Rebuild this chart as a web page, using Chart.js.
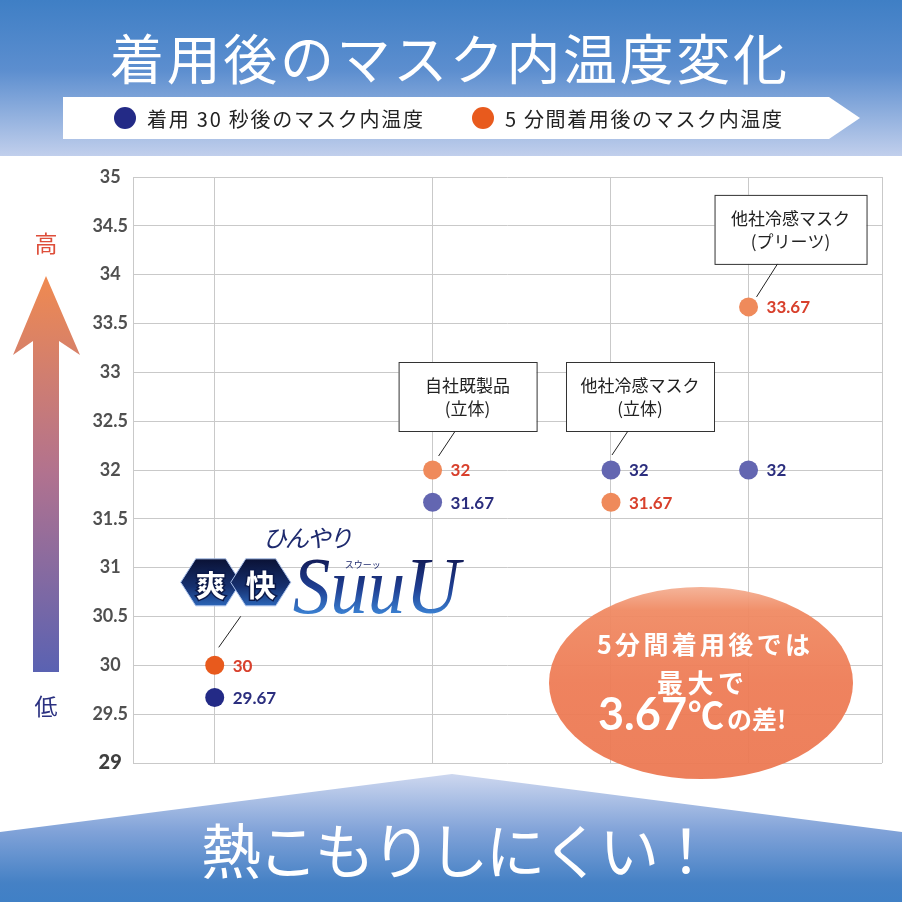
<!DOCTYPE html>
<html><head><meta charset="utf-8">
<script src="https://cdn.jsdelivr.net/npm/chart.js@4"></script>
<style>html,body{margin:0;padding:0;background:#fff;overflow:hidden}canvas{display:block}</style>
</head><body>
<canvas id="c" width="902" height="902"></canvas>
<script>
// ---- data ----
const titleText = "着用後のマスク内温度変化";
const bannerText = "熱こもりしにくい！";
const seriesNames = ["着用 30 秒後のマスク内温度", "5 分間着用後のマスク内温度"];
const categories = ["爽快SuuU", "自社既製品\n(立体)", "他社冷感マスク\n(立体)", "他社冷感マスク\n(プリーツ)"];
const categoryPositions = [0.6, 2.2, 3.51, 4.52];
const temp30s = [29.67, 31.67, 32, 32];
const temp5min = [30, 32, 31.67, 33.67];
const yTicks = [29, 29.5, 30, 30.5, 31, 31.5, 32, 32.5, 33, 33.5, 34, 34.5, 35];
const calloutLines = ["5分間着用後では", "最大で", "3.67", "℃", "の差!"];
const axisHigh = "高", axisLow = "低";

// ---- styles ----
const JP = '"Noto Sans CJK JP", "Noto Sans CJK SC", sans-serif';
const NUM = 'Lato, "DejaVu Sans", sans-serif';
const blueColors = ['#232a86', '#6366b1', '#6366b1', '#6366b1'];
const orangeColors = ['#e85a1d', '#ef8a5b', '#ef8a5b', '#ef8a5b'];
const blueLabel = '#2b2e7e', orangeLabel = '#d8402c';
const gridColor = '#c9c9c9';

function fitText(ctx, text, x, y, width) {
  ctx.letterSpacing = '0px';
  const n = [...text].length;
  const w = ctx.measureText(text).width;
  const ls = n > 1 ? (width - w) / (n - 1) : 0;
  ctx.letterSpacing = ls + 'px';
  ctx.textAlign = 'left';
  ctx.fillText(text, x, y);
  ctx.letterSpacing = '0px';
}

function hexPath(ctx, cx, cy, w, h) {
  ctx.beginPath();
  ctx.moveTo(cx - w / 2, cy);
  ctx.lineTo(cx - w / 4, cy - h / 2);
  ctx.lineTo(cx + w / 4, cy - h / 2);
  ctx.lineTo(cx + w / 2, cy);
  ctx.lineTo(cx + w / 4, cy + h / 2);
  ctx.lineTo(cx - w / 4, cy + h / 2);
  ctx.closePath();
}

const decor = {
  id: 'decor',
  beforeDraw(chart) {
    const ctx = chart.ctx;
    ctx.save();
    ctx.fillStyle = '#fff';
    ctx.fillRect(0, 0, 902, 902);
    // header
    let g = ctx.createLinearGradient(0, 0, 0, 156);
    g.addColorStop(0, '#3f7fc5');
    g.addColorStop(0.45, '#5c8ecf');
    g.addColorStop(1, '#c1cfec');
    ctx.fillStyle = g;
    ctx.fillRect(0, 0, 902, 156);
    ctx.fillStyle = '#fff';
    ctx.textBaseline = 'middle';
    ctx.font = '400 54px ' + JP;
    fitText(ctx, titleText, 110, 59, 677);
    // legend band
    ctx.beginPath();
    ctx.moveTo(63, 97); ctx.lineTo(829, 97); ctx.lineTo(860, 118); ctx.lineTo(829, 139); ctx.lineTo(63, 139);
    ctx.closePath();
    ctx.fillStyle = '#fff';
    ctx.fill();
    const ds = chart.data.datasets;
    const legendX = [125, 483], legendTextX = [147, 505], legendW = [276, 277];
    ds.forEach((d, i) => {
      ctx.beginPath();
      ctx.arc(legendX[i], 118, 11, 0, Math.PI * 2);
      ctx.fillStyle = d.legendColor;
      ctx.fill();
      ctx.fillStyle = '#222';
      ctx.font = '400 20px ' + JP;
      fitText(ctx, d.label, legendTextX[i], 119, legendW[i]);
    });
    // bottom banner
    ctx.beginPath();
    ctx.moveTo(0, 832); ctx.lineTo(452, 774); ctx.lineTo(902, 832); ctx.lineTo(902, 902); ctx.lineTo(0, 902);
    ctx.closePath();
    g = ctx.createLinearGradient(0, 774, 0, 902);
    g.addColorStop(0, '#cdd7ef');
    g.addColorStop(0.45, '#80a2d8');
    g.addColorStop(0.85, '#4581c5');
    g.addColorStop(1, '#4080c6');
    ctx.fillStyle = g;
    ctx.fill();
    ctx.fillStyle = '#fff';
    ctx.font = '400 60px ' + JP;
    fitText(ctx, bannerText, 201, 851, 515);
    // left arrow
    ctx.beginPath();
    ctx.moveTo(46, 276); ctx.lineTo(80, 355); ctx.lineTo(59, 341); ctx.lineTo(59, 672);
    ctx.lineTo(33, 672); ctx.lineTo(33, 341); ctx.lineTo(13, 355);
    ctx.closePath();
    g = ctx.createLinearGradient(0, 276, 0, 672);
    g.addColorStop(0, '#f08a50');
    g.addColorStop(0.5, '#b1728f');
    g.addColorStop(1, '#5a62b2');
    ctx.fillStyle = g;
    ctx.fill();
    ctx.textAlign = 'center';
    ctx.font = '400 23px ' + JP;
    ctx.fillStyle = '#de4e3a';
    ctx.fillText(axisHigh, 46, 243);
    ctx.fillStyle = '#2a3080';
    ctx.fillText(axisLow, 46, 706);
    ctx.restore();
  },
  beforeDatasetsDraw(chart) {
    const ctx = chart.ctx;
    ctx.save();
    // callout ellipse
    const cx = 701, cy = 683, rx = 152, ry = 96;
    const g = ctx.createLinearGradient(0, cy - ry, 0, cy + ry);
    g.addColorStop(0, '#f4b094');
    g.addColorStop(0.12, '#f08a63');
    g.addColorStop(0.5, '#ee7c56');
    g.addColorStop(1, '#ec7953');
    ctx.globalAlpha = 0.95;
    ctx.beginPath();
    ctx.ellipse(cx, cy, rx, ry, 0, 0, Math.PI * 2);
    ctx.fillStyle = g;
    ctx.fill();
    ctx.globalAlpha = 1;
    ctx.fillStyle = '#fff';
    ctx.textBaseline = 'middle';
    ctx.font = '700 25px ' + JP;
    fitText(ctx, calloutLines[0], 597, 644, 213);
    ctx.font = '700 26px ' + JP;
    fitText(ctx, calloutLines[1], 657, 683, 87);
    ctx.textBaseline = 'alphabetic';
    ctx.textAlign = 'left';
    ctx.font = '700 45px ' + NUM;
    ctx.fillText(calloutLines[2], 598, 730);
    const nw = ctx.measureText(calloutLines[2]).width;
    ctx.font = '700 36px ' + JP;
    ctx.fillText(calloutLines[3], 598 + nw + 1, 729);
    ctx.font = '700 25px ' + JP;
    ctx.fillText(calloutLines[4], 727, 729);
    ctx.restore();
  },
  afterDatasetsDraw(chart) {
    const ctx = chart.ctx;
    const xs = chart.scales.x, ys = chart.scales.y;
    ctx.save();
    // value labels
    chart.data.datasets.forEach((d, di) => {
      const meta = chart.getDatasetMeta(di);
      meta.data.forEach((pt, i) => {
        ctx.font = '700 17px ' + NUM;
        ctx.fillStyle = d.labelColor;
        ctx.textAlign = 'left';
        ctx.textBaseline = 'middle';
        ctx.fillText(String(d.data[i].y), pt.x + 18, pt.y + 1);
      });
    });
    // annotation boxes for categories 1..3
    const boxes = [null,
      {l: -34, r: 104, t: -108, b: -39, l1: [22, -38], l2: [6, -14]},
      {l: -45, r: 103, t: -108, b: -39, l1: [17, -39], l2: [1, -15]},
      {l: -34, r: 118, t: -112, b: -43, l1: [29, -43], l2: [8, -10]}];
    categories.forEach((cat, i) => {
      const px = xs.getPixelForValue(categoryPositions[i]);
      const py = ys.getPixelForValue(Math.max(temp30s[i], temp5min[i]));
      const bx = boxes[i];
      if (bx) {
        ctx.fillStyle = '#fff';
        ctx.fillRect(px + bx.l, py + bx.t, bx.r - bx.l, bx.b - bx.t);
        ctx.strokeStyle = '#333';
        ctx.lineWidth = 1;
        ctx.strokeRect(px + bx.l + 0.5, py + bx.t + 0.5, bx.r - bx.l, bx.b - bx.t);
        const lines = cat.split('\n');
        ctx.fillStyle = '#222';
        ctx.font = '400 17px ' + JP;
        ctx.textAlign = 'center';
        ctx.textBaseline = 'middle';
        const mx = px + (bx.l + bx.r) / 2, my = py + (bx.t + bx.b) / 2;
        ctx.fillText(lines[0], mx, my - 11);
        ctx.fillText(lines[1], mx, my + 12);
        ctx.beginPath();
        ctx.moveTo(px + bx.l1[0], py + bx.l1[1]);
        ctx.lineTo(px + bx.l2[0], py + bx.l2[1]);
        ctx.strokeStyle = '#222';
        ctx.stroke();
      } else {
        // logo for category 0
        ctx.beginPath();
        ctx.moveTo(px + 26, py - 49);
        ctx.lineTo(px + 4, py - 18);
        ctx.strokeStyle = '#222';
        ctx.lineWidth = 1;
        ctx.stroke();
        const hy = py - 83;
        const hexX = [px - 4, px + 46];
        const chars = [...cat.slice(0, 2)];
        hexX.forEach((hx, k) => {
          hexPath(ctx, hx, hy, 60, 47);
          const hg = ctx.createLinearGradient(0, hy - 23, 0, hy + 23);
          hg.addColorStop(0, '#0a1236');
          hg.addColorStop(0.6, '#16306f');
          hg.addColorStop(1, '#2a63b5');
          ctx.fillStyle = hg;
          ctx.fill();
          ctx.strokeStyle = '#a9c0ea';
          ctx.lineWidth = 1;
          ctx.stroke();
          ctx.font = '700 30px ' + JP;
          ctx.textAlign = 'center';
          ctx.textBaseline = 'middle';
          ctx.lineWidth = 3;
          ctx.strokeStyle = '#0c1a4a';
          ctx.strokeText(chars[k], hx, hy + 2);
          ctx.fillStyle = '#fff';
          ctx.fillText(chars[k], hx, hy + 2);
        });
        // SuuU wordmark
        const word = cat.slice(2);
        ctx.font = 'italic 80px "Liberation Serif", "DejaVu Serif", serif';
        ctx.textAlign = 'left';
        ctx.textBaseline = 'alphabetic';
        const w = ctx.measureText(word).width;
        ctx.save();
        ctx.translate(px + 78, py - 52);
        ctx.scale(167 / w, 1);
        const sg = ctx.createLinearGradient(0, -56, 0, 0);
        sg.addColorStop(0, '#121a55');
        sg.addColorStop(0.55, '#1f3f93');
        sg.addColorStop(1, '#3a7fd0');
        ctx.fillStyle = sg;
        ctx.fillText(word, 0, 0);
        ctx.restore();
        ctx.font = '400 9px ' + JP;
        ctx.fillStyle = '#1e2a6e';
        ctx.fillText('スウーッ', px + 130, py - 97);
        // ひんやり
        ctx.save();
        ctx.translate(px + 48, py - 118);
        ctx.transform(1, 0, -0.25, 1, 0, 0);
        ctx.font = '400 24px ' + JP;
        ctx.fillStyle = '#1e2a6e';
        fitText(ctx, 'ひんやり', 0, 0, 90);
        ctx.restore();
      }
    });
    ctx.restore();
  }
};

const pts = arr => arr.map((v, i) => ({x: categoryPositions[i], y: v}));

new Chart(document.getElementById('c'), {
  type: 'scatter',
  data: {
    datasets: [
      {label: seriesNames[0], data: pts(temp30s), backgroundColor: blueColors, legendColor: '#232a86', labelColor: blueLabel,
       pointRadius: 9.5, pointHoverRadius: 9.5, borderWidth: 0},
      {label: seriesNames[1], data: pts(temp5min), backgroundColor: orangeColors, legendColor: '#e85a1d', labelColor: orangeLabel,
       pointRadius: 9.5, pointHoverRadius: 9.5, borderWidth: 0}
    ]
  },
  options: {
    responsive: false,
    animation: false,
    devicePixelRatio: 1,
    layout: {padding: {left: 0, top: 177, right: 20, bottom: 139}},
    plugins: {legend: {display: false}, tooltip: {enabled: false}},
    scales: {
      x: {
        type: 'linear', min: 0, max: 5.5,
        afterBuildTicks: s => { s.ticks = [0, ...categoryPositions, 5.5].map(v => ({value: v})); },
        afterFit: s => { s.height = 0; },
        ticks: {display: false},
        grid: {color: gridColor, drawTicks: false, lineWidth: 1},
        border: {display: false}
      },
      y: {
        min: 29, max: 35,
        afterBuildTicks: s => { s.ticks = yTicks.map(v => ({value: v})); },
        afterFit: s => { s.width = 133; },
        ticks: {
          crossAlign: 'center', padding: 5,
          callback: v => String(v),
          color: c => c.tick && c.tick.value === 29 ? '#3f3f3f' : '#505050',
          font: c => c.tick && c.tick.value === 29 ? {family: NUM, size: 20, weight: '900'} : {family: NUM, size: 18, weight: '700'}
        },
        grid: {color: gridColor, drawTicks: false, lineWidth: 1},
        border: {display: false}
      }
    }
  },
  plugins: [decor]
});
</script>
</body></html>
